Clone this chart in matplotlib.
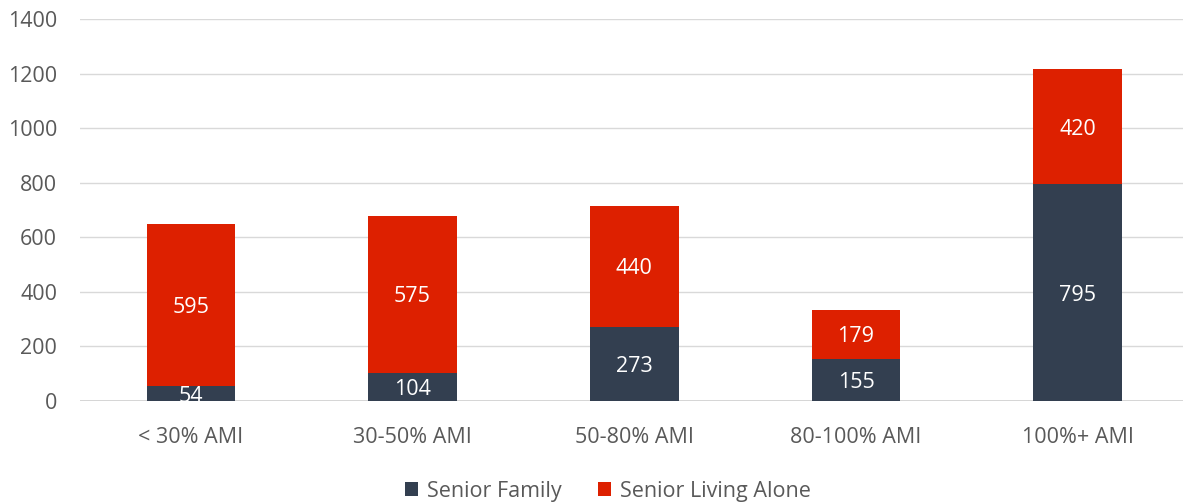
import matplotlib
matplotlib.use("Agg")
import matplotlib.pyplot as plt
import numpy as np

categories = ["< 30% AMI", "30-50% AMI", "50-80% AMI", "80-100% AMI", "100%+ AMI"]
senior_family = [54, 104, 273, 155, 795]
senior_alone = [595, 575, 440, 179, 420]
series_names = ["Senior Family", "Senior Living Alone"]
yticks = [0, 200, 400, 600, 800, 1000, 1200, 1400]

plt.rcParams['font.family'] = ['Open Sans', 'DejaVu Sans']

W, H = 1183, 503
fig = plt.figure(figsize=(W / 100, H / 100), dpi=100)
left_px, right_px, top_px, bot_px = 80, 1183, 19, 401
ax = fig.add_axes([left_px / W, 1 - bot_px / H, (right_px - left_px) / W, (bot_px - top_px) / H])

c_fam = "#333F50"
c_alone = "#DD2000"
x = np.arange(len(categories))
bw = 0.4
b1 = ax.bar(x, senior_family, bw, color=c_fam, label=series_names[0], zorder=3)
b2 = ax.bar(x, senior_alone, bw, bottom=senior_family, color=c_alone, label=series_names[1], zorder=3)

fs = 15.5
for i in range(len(categories)):
    ax.text(x[i], senior_family[i] / 2, str(senior_family[i]), ha="center", va="center_baseline",
            color="white", fontsize=fs, zorder=4, clip_on=True)
    ax.text(x[i], senior_family[i] + senior_alone[i] / 2, str(senior_alone[i]), ha="center",
            va="center_baseline", color="white", fontsize=fs, zorder=4, clip_on=True)

ax.set_ylim(0, 1400)
ax.set_xlim(-0.5, (right_px - left_px) / 221.7 - 0.5)
ax.set_yticks(yticks)
ax.set_xticks(x)
ax.set_xticklabels(categories)
ax.grid(axis="y", color="#D9D9D9", linewidth=1, zorder=0)
for s in ax.spines.values():
    s.set_visible(False)
ax.axhline(0, color="#D0D0D0", linewidth=1.2, zorder=2)
ax.tick_params(axis="both", length=0, labelsize=fs, colors="#595959")
ax.tick_params(axis="x", pad=19)
ax.tick_params(axis="y", pad=16.5)

leg = fig.legend(handles=[b1, b2], labels=series_names, loc="lower center",
                 bbox_to_anchor=(0.514, -0.036), ncol=2, frameon=False, fontsize=fs,
                 handlelength=0.6, handleheight=0.6, handletextpad=0.4, columnspacing=1.7)
for t in leg.get_texts():
    t.set_color("#595959")

fig.savefig("out.png", dpi=100)
